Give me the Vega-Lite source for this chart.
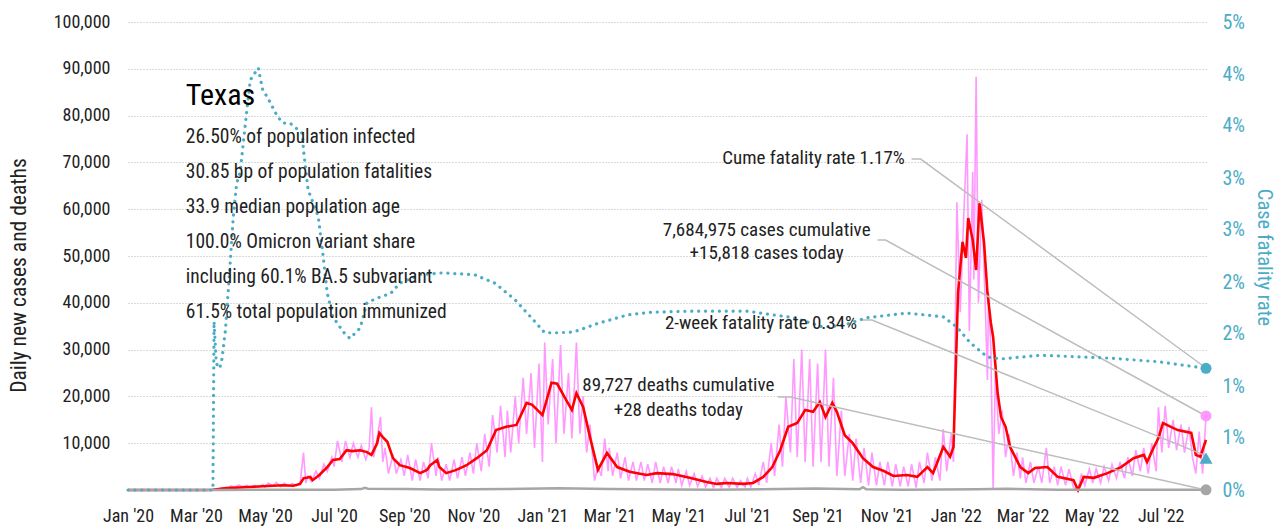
{
  "$schema": "https://vega.github.io/schema/vega-lite/v6.json",
  "autosize": {"type": "none"},
  "padding": {"left": 128, "top": 22, "right": 77, "bottom": 39},
  "width": 1078,
  "height": 468,
  "config": {
    "font": "Roboto Condensed, Liberation Sans Narrow, DejaVu Sans Condensed, Roboto, sans-serif",
    "view": {"stroke": null}
  },
  "data": {"values": [
    {"d": "2020-01-01", "v": 0}, {"d": "2020-03-08", "v": 0}, {"d": "2020-03-11", "v": 10}, {"d": "2020-03-15", "v": 50}, {"d": "2020-03-18", "v": 150}, {"d": "2020-03-22", "v": 300}, {"d": "2020-03-25", "v": 450}, {"d": "2020-03-29", "v": 400},
    {"d": "2020-04-01", "v": 900}, {"d": "2020-04-04", "v": 600}, {"d": "2020-04-08", "v": 1100}, {"d": "2020-04-11", "v": 700}, {"d": "2020-04-15", "v": 1000}, {"d": "2020-04-18", "v": 500}, {"d": "2020-04-22", "v": 1000}, {"d": "2020-04-25", "v": 600}, {"d": "2020-04-29", "v": 1100},
    {"d": "2020-05-01", "v": 600}, {"d": "2020-05-04", "v": 1500}, {"d": "2020-05-08", "v": 800}, {"d": "2020-05-11", "v": 1600}, {"d": "2020-05-15", "v": 700}, {"d": "2020-05-18", "v": 1500}, {"d": "2020-05-22", "v": 800}, {"d": "2020-05-25", "v": 1400}, {"d": "2020-05-29", "v": 900},
    {"d": "2020-06-01", "v": 1400}, {"d": "2020-06-04", "v": 8000}, {"d": "2020-06-06", "v": 1500}, {"d": "2020-06-08", "v": 3000}, {"d": "2020-06-11", "v": 1800}, {"d": "2020-06-15", "v": 4000}, {"d": "2020-06-18", "v": 2500}, {"d": "2020-06-22", "v": 5500}, {"d": "2020-06-25", "v": 4000}, {"d": "2020-06-29", "v": 7000},
    {"d": "2020-07-01", "v": 5000}, {"d": "2020-07-04", "v": 10500}, {"d": "2020-07-08", "v": 6000}, {"d": "2020-07-11", "v": 10500}, {"d": "2020-07-15", "v": 7000}, {"d": "2020-07-18", "v": 10000}, {"d": "2020-07-22", "v": 7000}, {"d": "2020-07-25", "v": 9500}, {"d": "2020-07-29", "v": 6500},
    {"d": "2020-08-01", "v": 9000}, {"d": "2020-08-03", "v": 17700}, {"d": "2020-08-05", "v": 7000}, {"d": "2020-08-08", "v": 11000}, {"d": "2020-08-11", "v": 15600}, {"d": "2020-08-13", "v": 6000}, {"d": "2020-08-15", "v": 9000}, {"d": "2020-08-18", "v": 3500}, {"d": "2020-08-22", "v": 7500}, {"d": "2020-08-25", "v": 3500}, {"d": "2020-08-29", "v": 6500},
    {"d": "2020-09-01", "v": 3000}, {"d": "2020-09-04", "v": 7500}, {"d": "2020-09-08", "v": 2000}, {"d": "2020-09-11", "v": 6500}, {"d": "2020-09-15", "v": 2000}, {"d": "2020-09-18", "v": 6000}, {"d": "2020-09-22", "v": 2500}, {"d": "2020-09-25", "v": 10000}, {"d": "2020-09-29", "v": 3000},
    {"d": "2020-10-01", "v": 7000}, {"d": "2020-10-04", "v": 2000}, {"d": "2020-10-08", "v": 5500}, {"d": "2020-10-11", "v": 2000}, {"d": "2020-10-15", "v": 6500}, {"d": "2020-10-18", "v": 2500}, {"d": "2020-10-22", "v": 7000}, {"d": "2020-10-25", "v": 3000}, {"d": "2020-10-29", "v": 8000},
    {"d": "2020-11-01", "v": 3500}, {"d": "2020-11-04", "v": 10000}, {"d": "2020-11-08", "v": 4000}, {"d": "2020-11-11", "v": 12000}, {"d": "2020-11-15", "v": 5000}, {"d": "2020-11-18", "v": 16000}, {"d": "2020-11-22", "v": 8000}, {"d": "2020-11-25", "v": 18000}, {"d": "2020-11-29", "v": 7000},
    {"d": "2020-12-01", "v": 17000}, {"d": "2020-12-04", "v": 8000}, {"d": "2020-12-08", "v": 20000}, {"d": "2020-12-11", "v": 10000}, {"d": "2020-12-15", "v": 24000}, {"d": "2020-12-18", "v": 12000}, {"d": "2020-12-22", "v": 25000}, {"d": "2020-12-25", "v": 9000}, {"d": "2020-12-29", "v": 27000},
    {"d": "2021-01-01", "v": 6000}, {"d": "2021-01-03", "v": 31500}, {"d": "2021-01-06", "v": 14000}, {"d": "2021-01-10", "v": 28000}, {"d": "2021-01-13", "v": 10000}, {"d": "2021-01-17", "v": 31000}, {"d": "2021-01-20", "v": 12000}, {"d": "2021-01-24", "v": 25000}, {"d": "2021-01-27", "v": 11000}, {"d": "2021-01-31", "v": 31500},
    {"d": "2021-02-03", "v": 12000}, {"d": "2021-02-06", "v": 20000}, {"d": "2021-02-09", "v": 8000}, {"d": "2021-02-12", "v": 14000}, {"d": "2021-02-16", "v": 2000}, {"d": "2021-02-19", "v": 5000}, {"d": "2021-02-22", "v": 3000}, {"d": "2021-02-25", "v": 11000}, {"d": "2021-02-28", "v": 4000},
    {"d": "2021-03-01", "v": 9000}, {"d": "2021-03-04", "v": 3000}, {"d": "2021-03-08", "v": 8000}, {"d": "2021-03-11", "v": 2500}, {"d": "2021-03-15", "v": 7000}, {"d": "2021-03-18", "v": 2000}, {"d": "2021-03-22", "v": 6000}, {"d": "2021-03-25", "v": 2000}, {"d": "2021-03-29", "v": 6000},
    {"d": "2021-04-01", "v": 2000}, {"d": "2021-04-04", "v": 5500}, {"d": "2021-04-08", "v": 1500}, {"d": "2021-04-11", "v": 6000}, {"d": "2021-04-15", "v": 1500}, {"d": "2021-04-18", "v": 5000}, {"d": "2021-04-22", "v": 1500}, {"d": "2021-04-25", "v": 5000}, {"d": "2021-04-29", "v": 1500},
    {"d": "2021-05-01", "v": 4500}, {"d": "2021-05-04", "v": 1000}, {"d": "2021-05-08", "v": 4000}, {"d": "2021-05-11", "v": 1000}, {"d": "2021-05-15", "v": 3500}, {"d": "2021-05-18", "v": 800}, {"d": "2021-05-22", "v": 3000}, {"d": "2021-05-25", "v": 600}, {"d": "2021-05-29", "v": 2500},
    {"d": "2021-06-01", "v": 500}, {"d": "2021-06-04", "v": 2500}, {"d": "2021-06-08", "v": 500}, {"d": "2021-06-11", "v": 2500}, {"d": "2021-06-15", "v": 600}, {"d": "2021-06-18", "v": 2500}, {"d": "2021-06-22", "v": 500}, {"d": "2021-06-25", "v": 2000}, {"d": "2021-06-29", "v": 600},
    {"d": "2021-07-01", "v": 2500}, {"d": "2021-07-04", "v": 600}, {"d": "2021-07-08", "v": 3500}, {"d": "2021-07-11", "v": 1000}, {"d": "2021-07-15", "v": 6000}, {"d": "2021-07-18", "v": 1500}, {"d": "2021-07-22", "v": 10000}, {"d": "2021-07-25", "v": 3000}, {"d": "2021-07-29", "v": 14000},
    {"d": "2021-08-01", "v": 5000}, {"d": "2021-08-04", "v": 20000}, {"d": "2021-08-08", "v": 8000}, {"d": "2021-08-11", "v": 28000}, {"d": "2021-08-14", "v": 7000}, {"d": "2021-08-18", "v": 30000}, {"d": "2021-08-21", "v": 6000}, {"d": "2021-08-25", "v": 28000}, {"d": "2021-08-28", "v": 5000},
    {"d": "2021-09-01", "v": 27000}, {"d": "2021-09-04", "v": 6000}, {"d": "2021-09-08", "v": 30000}, {"d": "2021-09-11", "v": 5000}, {"d": "2021-09-15", "v": 24000}, {"d": "2021-09-18", "v": 3000}, {"d": "2021-09-22", "v": 17000}, {"d": "2021-09-25", "v": 3000}, {"d": "2021-09-29", "v": 12000},
    {"d": "2021-10-02", "v": 2000}, {"d": "2021-10-05", "v": 11000}, {"d": "2021-10-09", "v": 1500}, {"d": "2021-10-12", "v": 9000}, {"d": "2021-10-16", "v": 1000}, {"d": "2021-10-19", "v": 8000}, {"d": "2021-10-23", "v": 1000}, {"d": "2021-10-26", "v": 6000}, {"d": "2021-10-30", "v": 1000},
    {"d": "2021-11-02", "v": 6000}, {"d": "2021-11-06", "v": 800}, {"d": "2021-11-09", "v": 5500}, {"d": "2021-11-13", "v": 800}, {"d": "2021-11-16", "v": 5000}, {"d": "2021-11-20", "v": 800}, {"d": "2021-11-23", "v": 5500}, {"d": "2021-11-27", "v": 500}, {"d": "2021-11-30", "v": 6000},
    {"d": "2021-12-04", "v": 1500}, {"d": "2021-12-07", "v": 8000}, {"d": "2021-12-11", "v": 2000}, {"d": "2021-12-14", "v": 7000}, {"d": "2021-12-18", "v": 2000}, {"d": "2021-12-21", "v": 13000}, {"d": "2021-12-24", "v": 4000}, {"d": "2021-12-28", "v": 12000}, {"d": "2021-12-30", "v": 6000},
    {"d": "2022-01-02", "v": 61500}, {"d": "2022-01-05", "v": 38000}, {"d": "2022-01-08", "v": 58000}, {"d": "2022-01-11", "v": 76000}, {"d": "2022-01-13", "v": 34000}, {"d": "2022-01-16", "v": 68000}, {"d": "2022-01-17", "v": 45000}, {"d": "2022-01-19", "v": 88300}, {"d": "2022-01-21", "v": 40000}, {"d": "2022-01-24", "v": 62000}, {"d": "2022-01-27", "v": 40000}, {"d": "2022-01-29", "v": 23500}, {"d": "2022-01-30", "v": 42000},
    {"d": "2022-02-01", "v": 30000}, {"d": "2022-02-03", "v": 0}, {"d": "2022-02-05", "v": 25000}, {"d": "2022-02-08", "v": 12000}, {"d": "2022-02-11", "v": 17000}, {"d": "2022-02-14", "v": 7000}, {"d": "2022-02-17", "v": 12000}, {"d": "2022-02-21", "v": 3000}, {"d": "2022-02-24", "v": 8000}, {"d": "2022-02-27", "v": 2500},
    {"d": "2022-03-01", "v": 7000}, {"d": "2022-03-04", "v": 1500}, {"d": "2022-03-08", "v": 6000}, {"d": "2022-03-11", "v": 1500}, {"d": "2022-03-15", "v": 5000}, {"d": "2022-03-18", "v": 1500}, {"d": "2022-03-22", "v": 9000}, {"d": "2022-03-25", "v": 1500}, {"d": "2022-03-29", "v": 5000},
    {"d": "2022-04-01", "v": 1000}, {"d": "2022-04-04", "v": 5000}, {"d": "2022-04-08", "v": 1000}, {"d": "2022-04-11", "v": 4500}, {"d": "2022-04-15", "v": 500}, {"d": "2022-04-19", "v": 0}, {"d": "2022-04-22", "v": 3500}, {"d": "2022-04-25", "v": 1000}, {"d": "2022-04-29", "v": 4500},
    {"d": "2022-05-02", "v": 1500}, {"d": "2022-05-05", "v": 4500}, {"d": "2022-05-09", "v": 1500}, {"d": "2022-05-12", "v": 5000}, {"d": "2022-05-16", "v": 2000}, {"d": "2022-05-19", "v": 5500}, {"d": "2022-05-23", "v": 2500}, {"d": "2022-05-26", "v": 6000}, {"d": "2022-05-30", "v": 2500},
    {"d": "2022-06-02", "v": 7000}, {"d": "2022-06-06", "v": 3000}, {"d": "2022-06-09", "v": 8500}, {"d": "2022-06-13", "v": 4000}, {"d": "2022-06-16", "v": 9000}, {"d": "2022-06-20", "v": 3500}, {"d": "2022-06-23", "v": 10000}, {"d": "2022-06-27", "v": 4000}, {"d": "2022-06-29", "v": 17700},
    {"d": "2022-07-02", "v": 8000}, {"d": "2022-07-05", "v": 18000}, {"d": "2022-07-08", "v": 9000}, {"d": "2022-07-12", "v": 15000}, {"d": "2022-07-15", "v": 8500}, {"d": "2022-07-19", "v": 14000}, {"d": "2022-07-22", "v": 8000}, {"d": "2022-07-26", "v": 13500}, {"d": "2022-07-29", "v": 7000},
    {"d": "2022-08-01", "v": 3500}, {"d": "2022-08-04", "v": 12500}, {"d": "2022-08-07", "v": 3500}, {"d": "2022-08-10", "v": 15818}
  ]},
  "datasets": {
    "avg": [
      {"d": "2020-01-01", "v": 0}, {"d": "2020-03-10", "v": 0}, {"d": "2020-03-16", "v": 50}, {"d": "2020-03-28", "v": 400}, {"d": "2020-04-17", "v": 650}, {"d": "2020-05-03", "v": 850}, {"d": "2020-05-17", "v": 1000}, {"d": "2020-05-26", "v": 900},
      {"d": "2020-06-01", "v": 1300}, {"d": "2020-06-04", "v": 2500}, {"d": "2020-06-10", "v": 2800}, {"d": "2020-06-12", "v": 2100}, {"d": "2020-06-18", "v": 3200}, {"d": "2020-06-25", "v": 4900}, {"d": "2020-06-30", "v": 6400},
      {"d": "2020-07-06", "v": 6600}, {"d": "2020-07-12", "v": 8500}, {"d": "2020-07-17", "v": 8300}, {"d": "2020-07-24", "v": 8500}, {"d": "2020-07-30", "v": 8100}, {"d": "2020-08-03", "v": 7500}, {"d": "2020-08-08", "v": 10000}, {"d": "2020-08-10", "v": 12200}, {"d": "2020-08-13", "v": 11300}, {"d": "2020-08-17", "v": 10300}, {"d": "2020-08-22", "v": 6800}, {"d": "2020-08-28", "v": 5300},
      {"d": "2020-09-06", "v": 4700}, {"d": "2020-09-15", "v": 3600}, {"d": "2020-09-21", "v": 4300}, {"d": "2020-09-24", "v": 5300}, {"d": "2020-09-30", "v": 6400}, {"d": "2020-10-02", "v": 4900}, {"d": "2020-10-08", "v": 3600}, {"d": "2020-10-17", "v": 4300}, {"d": "2020-10-26", "v": 5300},
      {"d": "2020-11-04", "v": 6800}, {"d": "2020-11-13", "v": 8500}, {"d": "2020-11-21", "v": 12800}, {"d": "2020-11-30", "v": 13500}, {"d": "2020-12-09", "v": 13900}, {"d": "2020-12-18", "v": 18600}, {"d": "2020-12-23", "v": 18200},
      {"d": "2021-01-01", "v": 16000}, {"d": "2021-01-09", "v": 22900}, {"d": "2021-01-14", "v": 22700}, {"d": "2021-01-22", "v": 19200}, {"d": "2021-01-27", "v": 17100}, {"d": "2021-01-31", "v": 20700}, {"d": "2021-02-06", "v": 17700}, {"d": "2021-02-12", "v": 11300}, {"d": "2021-02-19", "v": 4300}, {"d": "2021-02-27", "v": 7900},
      {"d": "2021-03-08", "v": 4900}, {"d": "2021-03-19", "v": 3900}, {"d": "2021-04-03", "v": 3200}, {"d": "2021-04-12", "v": 3600}, {"d": "2021-04-26", "v": 3400}, {"d": "2021-05-11", "v": 2600}, {"d": "2021-05-26", "v": 1700}, {"d": "2021-06-04", "v": 1300}, {"d": "2021-06-13", "v": 1500}, {"d": "2021-06-27", "v": 1300},
      {"d": "2021-07-06", "v": 1500}, {"d": "2021-07-15", "v": 2800}, {"d": "2021-07-23", "v": 4900}, {"d": "2021-07-30", "v": 8500}, {"d": "2021-08-06", "v": 13500}, {"d": "2021-08-14", "v": 14300}, {"d": "2021-08-21", "v": 17100}, {"d": "2021-08-28", "v": 16700},
      {"d": "2021-09-03", "v": 18800}, {"d": "2021-09-08", "v": 15600}, {"d": "2021-09-14", "v": 18600}, {"d": "2021-09-18", "v": 16700}, {"d": "2021-09-25", "v": 11700}, {"d": "2021-10-02", "v": 10000}, {"d": "2021-10-11", "v": 6800}, {"d": "2021-10-20", "v": 4900}, {"d": "2021-10-29", "v": 4100},
      {"d": "2021-11-07", "v": 3000}, {"d": "2021-11-19", "v": 3200}, {"d": "2021-11-28", "v": 2800}, {"d": "2021-12-07", "v": 4900}, {"d": "2021-12-12", "v": 3600}, {"d": "2021-12-21", "v": 9200}, {"d": "2021-12-27", "v": 7100}, {"d": "2021-12-30", "v": 9200},
      {"d": "2022-01-03", "v": 42100}, {"d": "2022-01-07", "v": 53000}, {"d": "2022-01-10", "v": 49600}, {"d": "2022-01-12", "v": 58100}, {"d": "2022-01-16", "v": 53400}, {"d": "2022-01-19", "v": 47000}, {"d": "2022-01-22", "v": 61300}, {"d": "2022-01-26", "v": 52800}, {"d": "2022-01-29", "v": 42100},
      {"d": "2022-02-01", "v": 35700}, {"d": "2022-02-03", "v": 32700}, {"d": "2022-02-07", "v": 20700}, {"d": "2022-02-10", "v": 15600}, {"d": "2022-02-14", "v": 13500}, {"d": "2022-02-18", "v": 9200}, {"d": "2022-02-27", "v": 4900},
      {"d": "2022-03-06", "v": 3600}, {"d": "2022-03-12", "v": 4700}, {"d": "2022-03-23", "v": 4900}, {"d": "2022-04-01", "v": 2800}, {"d": "2022-04-15", "v": 2100}, {"d": "2022-04-19", "v": 0}, {"d": "2022-04-24", "v": 2800}, {"d": "2022-05-03", "v": 2600}, {"d": "2022-05-15", "v": 3600}, {"d": "2022-05-27", "v": 4900},
      {"d": "2022-06-07", "v": 6800}, {"d": "2022-06-16", "v": 7500}, {"d": "2022-06-19", "v": 6000}, {"d": "2022-06-25", "v": 9200}, {"d": "2022-06-29", "v": 11100}, {"d": "2022-07-03", "v": 14300}, {"d": "2022-07-10", "v": 13500}, {"d": "2022-07-16", "v": 12800}, {"d": "2022-07-28", "v": 12200},
      {"d": "2022-08-01", "v": 7500}, {"d": "2022-08-05", "v": 7100}, {"d": "2022-08-10", "v": 10700}
    ],
    "deaths": [
      {"d": "2020-01-01", "v": 0}, {"d": "2020-03-20", "v": 10}, {"d": "2020-05-01", "v": 40}, {"d": "2020-07-01", "v": 80}, {"d": "2020-07-25", "v": 200}, {"d": "2020-07-28", "v": 450}, {"d": "2020-07-31", "v": 250}, {"d": "2020-09-01", "v": 200}, {"d": "2020-10-01", "v": 100}, {"d": "2020-12-01", "v": 200}, {"d": "2021-01-15", "v": 400}, {"d": "2021-03-01", "v": 200}, {"d": "2021-06-01", "v": 40}, {"d": "2021-08-30", "v": 300}, {"d": "2021-10-08", "v": 150}, {"d": "2021-10-11", "v": 600}, {"d": "2021-10-14", "v": 150}, {"d": "2021-11-15", "v": 80}, {"d": "2022-01-20", "v": 150}, {"d": "2022-02-15", "v": 250}, {"d": "2022-04-01", "v": 50}, {"d": "2022-08-10", "v": 28}
    ],
    "cfr": [
      {"d": "2020-01-01", "r": 0}, {"d": "2020-03-16", "r": 0}, {"d": "2020-03-17", "r": 0.018}, {"d": "2020-03-19", "r": 0.0135}, {"d": "2020-03-22", "r": 0.013}, {"d": "2020-03-24", "r": 0.014}, {"d": "2020-03-27", "r": 0.017}, {"d": "2020-03-31", "r": 0.0238},
      {"d": "2020-04-03", "r": 0.0292}, {"d": "2020-04-06", "r": 0.0328}, {"d": "2020-04-09", "r": 0.0339}, {"d": "2020-04-15", "r": 0.0406}, {"d": "2020-04-18", "r": 0.0438}, {"d": "2020-04-25", "r": 0.0451}, {"d": "2020-04-29", "r": 0.0427},
      {"d": "2020-05-03", "r": 0.042}, {"d": "2020-05-12", "r": 0.0399}, {"d": "2020-05-17", "r": 0.0392}, {"d": "2020-05-23", "r": 0.0392}, {"d": "2020-06-03", "r": 0.0381}, {"d": "2020-06-04", "r": 0.0363}, {"d": "2020-06-08", "r": 0.0321}, {"d": "2020-06-17", "r": 0.0292}, {"d": "2020-06-21", "r": 0.0253}, {"d": "2020-06-25", "r": 0.021}, {"d": "2020-06-30", "r": 0.0185},
      {"d": "2020-07-09", "r": 0.0169}, {"d": "2020-07-15", "r": 0.0162}, {"d": "2020-07-24", "r": 0.0173}, {"d": "2020-07-30", "r": 0.02}, {"d": "2020-08-08", "r": 0.0205}, {"d": "2020-08-20", "r": 0.021}, {"d": "2020-08-28", "r": 0.0221}, {"d": "2020-09-15", "r": 0.023}, {"d": "2020-10-05", "r": 0.0232}, {"d": "2020-11-02", "r": 0.023}, {"d": "2020-11-20", "r": 0.0221}, {"d": "2020-12-08", "r": 0.0203}, {"d": "2020-12-26", "r": 0.0179},
      {"d": "2021-01-03", "r": 0.0168}, {"d": "2021-01-16", "r": 0.0168}, {"d": "2021-01-29", "r": 0.0169}, {"d": "2021-02-19", "r": 0.0178}, {"d": "2021-03-17", "r": 0.0187}, {"d": "2021-04-08", "r": 0.019}, {"d": "2021-05-09", "r": 0.0191}, {"d": "2021-07-01", "r": 0.0191}, {"d": "2021-08-11", "r": 0.0184}, {"d": "2021-09-06", "r": 0.0174}, {"d": "2021-09-24", "r": 0.0176}, {"d": "2021-10-14", "r": 0.0184}, {"d": "2021-11-19", "r": 0.0189}, {"d": "2021-12-21", "r": 0.0185},
      {"d": "2022-01-02", "r": 0.0174}, {"d": "2022-01-14", "r": 0.0157}, {"d": "2022-01-29", "r": 0.0142}, {"d": "2022-02-10", "r": 0.014}, {"d": "2022-03-17", "r": 0.0144}, {"d": "2022-05-15", "r": 0.0141}, {"d": "2022-06-29", "r": 0.0137}, {"d": "2022-08-10", "r": 0.013}
    ],
    "leaders": [
      {"id": "cume", "o": 1, "d": "2021-11-23", "v": 70700}, {"id": "cume", "o": 2, "d": "2021-12-01", "v": 70700}, {"id": "cume", "o": 3, "d": "2022-08-10", "v": 26070},
      {"id": "cases", "o": 1, "d": "2021-10-24", "v": 53400}, {"id": "cases", "o": 2, "d": "2021-10-31", "v": 53400}, {"id": "cases", "o": 3, "d": "2022-08-10", "v": 15818},
      {"id": "twoweek", "o": 1, "d": "2021-10-09", "v": 36330}, {"id": "twoweek", "o": 2, "d": "2021-10-19", "v": 36330}, {"id": "twoweek", "o": 3, "d": "2022-08-10", "v": 7300},
      {"id": "deaths", "o": 1, "d": "2021-07-28", "v": 19870}, {"id": "deaths", "o": 2, "d": "2021-08-08", "v": 19870}, {"id": "deaths", "o": 3, "d": "2022-08-10", "v": 0}
    ],
    "leftMarks": [
      {"k": "cases", "d": "2022-08-10", "v": 15818},
      {"k": "deaths", "d": "2022-08-10", "v": 28}
    ],
    "rightMarks": [
      {"k": "cume", "d": "2022-08-10", "r": 0.013, "s": "circle"},
      {"k": "twoweek", "d": "2022-08-10", "r": 0.0034, "s": "triangle-up"}
    ],
    "texts": [
      {"g": "title", "d": "2020-02-21", "v": 84200, "t": "Texas"},
      {"g": "stat", "d": "2020-02-21", "v": 75400, "t": "26.50% of population infected"},
      {"g": "stat", "d": "2020-02-21", "v": 67950, "t": "30.85 bp of population fatalities"},
      {"g": "stat", "d": "2020-02-21", "v": 60450, "t": "33.9 median population age"},
      {"g": "stat", "d": "2020-02-21", "v": 53000, "t": "100.0% Omicron variant share"},
      {"g": "stat", "d": "2020-02-21", "v": 45500, "t": "including 60.1% BA.5 subvariant"},
      {"g": "stat", "d": "2020-02-21", "v": 38000, "t": "61.5% total population immunized"},
      {"g": "center", "d": "2021-07-18", "v": 55560, "t": "7,684,975 cases cumulative"},
      {"g": "center", "d": "2021-07-18", "v": 50650, "t": "+15,818 cases today"},
      {"g": "center", "d": "2021-07-13", "v": 35690, "t": "2-week fatality rate 0.34%"},
      {"g": "center", "d": "2021-05-01", "v": 22440, "t": "89,727 deaths cumulative"},
      {"g": "center", "d": "2021-05-01", "v": 17100, "t": "+28 deaths today"},
      {"g": "right", "d": "2021-11-17", "v": 70950, "t": "Cume fatality rate 1.17%"}
    ]
  },
  "resolve": {"scale": {"y": "independent"}},
  "layer": [
    {
      "mark": {"type": "line", "color": "#FF99FF", "strokeWidth": 1.6},
      "encoding": {
        "x": {"field": "d", "type": "temporal",
          "scale": {"type": "utc", "domain": [{"year": 2020, "month": 1, "date": 1, "utc": true}, {"year": 2022, "month": 8, "date": 10, "utc": true}]},
          "axis": {"title": null, "format": "%b '%y", "tickCount": {"interval": "month", "step": 2}, "labelFontSize": 18, "labelColor": "#222", "labelPadding": 17, "ticks": false, "domain": false, "grid": false, "labelFlush": false, "labelOverlap": false}},
        "y": {"field": "v", "type": "quantitative",
          "scale": {"domain": [0, 100000], "nice": false},
          "axis": {"orient": "left", "title": "Daily new cases and deaths", "values": [10000, 20000, 30000, 40000, 50000, 60000, 70000, 80000, 90000, 100000], "format": ",d", "labelFontSize": 18, "labelColor": "#222", "labelPadding": 18, "ticks": false, "domain": false, "grid": true, "gridDash": [1, 2], "gridColor": "#b5b5b5", "gridWidth": 1, "titleFontSize": 21.5, "titleFontWeight": "normal", "titleColor": "#222", "titleX": -109, "titleY": 253, "titleAngle": -90, "titleAlign": "center", "titleBaseline": "middle"}}
      }
    },
    {
      "data": {"name": "avg"},
      "mark": {"type": "line", "color": "#FF0000", "strokeWidth": 2.6},
      "encoding": {
        "x": {"field": "d", "type": "temporal"},
        "y": {"field": "v", "type": "quantitative", "scale": {"domain": [0, 100000], "nice": false}, "axis": null}
      }
    },
    {
      "data": {"name": "deaths"},
      "mark": {"type": "line", "color": "#A6A6A6", "strokeWidth": 2.5},
      "encoding": {
        "x": {"field": "d", "type": "temporal"},
        "y": {"field": "v", "type": "quantitative", "scale": {"domain": [0, 100000], "nice": false}, "axis": null}
      }
    },
    {
      "data": {"name": "leaders"},
      "mark": {"type": "line", "color": "#BDBDBD", "strokeWidth": 1.5},
      "encoding": {
        "x": {"field": "d", "type": "temporal"},
        "y": {"field": "v", "type": "quantitative", "scale": {"domain": [0, 100000], "nice": false}, "axis": null},
        "detail": {"field": "id"},
        "order": {"field": "o"}
      }
    },
    {
      "data": {"name": "cfr"},
      "mark": {"type": "line", "color": "#4BACC6", "strokeWidth": 3.2, "strokeDash": [0.1, 6.8], "strokeCap": "round"},
      "encoding": {
        "x": {"field": "d", "type": "temporal"},
        "y": {"field": "r", "type": "quantitative",
          "scale": {"domain": [0, 0.05], "nice": false},
          "axis": {"orient": "right", "title": "Case fatality rate", "values": [0, 0.0055556, 0.0111111, 0.0166667, 0.0222222, 0.0277778, 0.0333333, 0.0388889, 0.0444444, 0.05], "format": ".0%", "labelFontSize": 20, "labelColor": "#4BACC6", "labelPadding": 16, "ticks": false, "domain": false, "grid": false, "titleFontSize": 20.5, "titleFontWeight": "normal", "titleColor": "#4BACC6", "titleX": 57, "titleY": 235, "titleAngle": 90, "titleAlign": "center", "titleBaseline": "middle"}}
      }
    },
    {
      "data": {"name": "rightMarks"},
      "mark": {"type": "point", "filled": true, "opacity": 1, "color": "#4BACC6"},
      "encoding": {
        "x": {"field": "d", "type": "temporal"},
        "y": {"field": "r", "type": "quantitative", "scale": {"domain": [0, 0.05], "nice": false}, "axis": null},
        "shape": {"field": "s", "type": "nominal", "scale": {"domain": ["circle", "triangle-up"], "range": ["circle", "triangle-up"]}, "legend": null},
        "size": {"field": "s", "type": "nominal", "scale": {"domain": ["circle", "triangle-up"], "range": [121, 170]}, "legend": null}
      }
    },
    {
      "data": {"name": "leftMarks"},
      "mark": {"type": "point", "filled": true, "opacity": 1, "shape": "circle", "size": 121},
      "encoding": {
        "x": {"field": "d", "type": "temporal"},
        "y": {"field": "v", "type": "quantitative", "scale": {"domain": [0, 100000], "nice": false}, "axis": null},
        "color": {"field": "k", "type": "nominal", "scale": {"domain": ["cases", "deaths"], "range": ["#FF99FF", "#A6A6A6"]}, "legend": null}
      }
    },
    {
      "data": {"name": "texts"},
      "transform": [{"filter": "datum.g === 'title'"}],
      "mark": {"type": "text", "align": "left", "baseline": "middle", "fontSize": 30, "color": "#000"},
      "encoding": {
        "x": {"field": "d", "type": "temporal"},
        "y": {"field": "v", "type": "quantitative", "scale": {"domain": [0, 100000], "nice": false}, "axis": null},
        "text": {"field": "t"}
      }
    },
    {
      "data": {"name": "texts"},
      "transform": [{"filter": "datum.g === 'stat'"}],
      "mark": {"type": "text", "align": "left", "baseline": "middle", "fontSize": 19.5, "color": "#222"},
      "encoding": {
        "x": {"field": "d", "type": "temporal"},
        "y": {"field": "v", "type": "quantitative", "scale": {"domain": [0, 100000], "nice": false}, "axis": null},
        "text": {"field": "t"}
      }
    },
    {
      "data": {"name": "texts"},
      "transform": [{"filter": "datum.g === 'center'"}],
      "mark": {"type": "text", "align": "center", "baseline": "middle", "fontSize": 19, "color": "#222"},
      "encoding": {
        "x": {"field": "d", "type": "temporal"},
        "y": {"field": "v", "type": "quantitative", "scale": {"domain": [0, 100000], "nice": false}, "axis": null},
        "text": {"field": "t"}
      }
    },
    {
      "data": {"name": "texts"},
      "transform": [{"filter": "datum.g === 'right'"}],
      "mark": {"type": "text", "align": "right", "baseline": "middle", "fontSize": 19, "color": "#222"},
      "encoding": {
        "x": {"field": "d", "type": "temporal"},
        "y": {"field": "v", "type": "quantitative", "scale": {"domain": [0, 100000], "nice": false}, "axis": null},
        "text": {"field": "t"}
      }
    }
  ]
}
